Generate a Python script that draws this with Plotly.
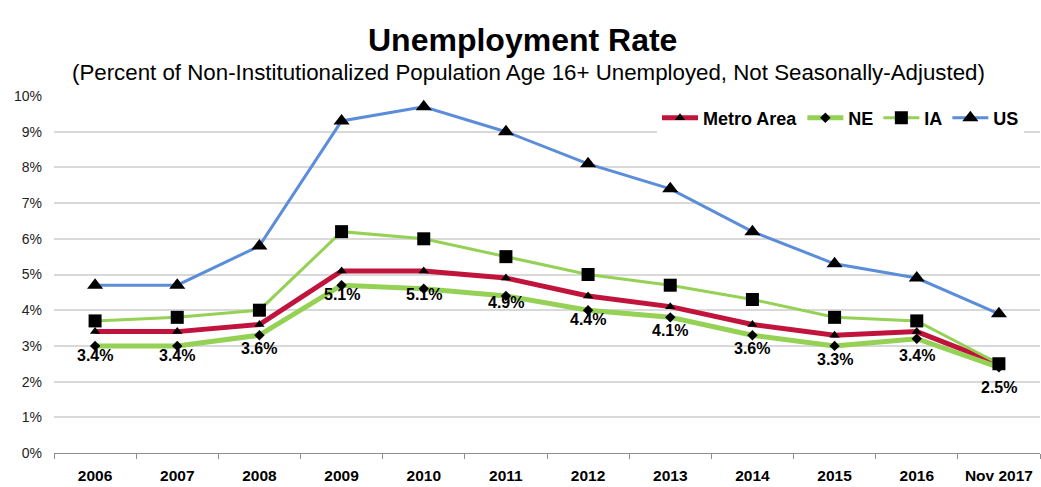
import plotly.graph_objects as go

categories = ["2006", "2007", "2008", "2009", "2010", "2011", "2012", "2013",
              "2014", "2015", "2016", "Nov 2017"]
metro = [3.4, 3.4, 3.6, 5.1, 5.1, 4.9, 4.4, 4.1, 3.6, 3.3, 3.4, 2.5]
ne = [3.0, 3.0, 3.3, 4.7, 4.6, 4.4, 4.0, 3.8, 3.3, 3.0, 3.2, 2.4]
ia = [3.7, 3.8, 4.0, 6.2, 6.0, 5.5, 5.0, 4.7, 4.3, 3.8, 3.7, 2.5]
us = [4.7, 4.7, 5.8, 9.3, 9.7, 9.0, 8.1, 7.4, 6.2, 5.3, 4.9, 3.9]
y_ticks = [0, 1, 2, 3, 4, 5, 6, 7, 8, 9, 10]
y_tick_labels = [f"{v}%" for v in y_ticks]

FONT = "Liberation Sans, Arial"

fig = go.Figure()
fig.add_trace(go.Scatter(x=categories, y=metro, name="<b>Metro Area</b>", mode="lines+markers",
                         line=dict(color="#C0143C", width=5),
                         marker=dict(symbol="triangle-up", size=9, color="black"),
                         cliponaxis=False))
fig.add_trace(go.Scatter(x=categories, y=ne, name="<b>NE</b>", mode="lines+markers",
                         line=dict(color="#95D155", width=5),
                         marker=dict(symbol="diamond", size=8, color="black"),
                         cliponaxis=False))
fig.add_trace(go.Scatter(x=categories, y=ia, name="<b>IA</b>", mode="lines+markers",
                         line=dict(color="#95D155", width=3),
                         marker=dict(symbol="square", size=13, color="black"),
                         cliponaxis=False))
fig.add_trace(go.Scatter(x=categories, y=us, name="<b>US</b>", mode="lines+markers",
                         line=dict(color="#5B8DD9", width=3),
                         marker=dict(symbol="triangle-up", size=14, color="black"),
                         cliponaxis=False))

annotations = []
for i, v in enumerate(metro):
    annotations.append(dict(x=i, y=v, xref="x", yref="y", text=f"<b>{v:.1f}%</b>",
                            showarrow=False, yshift=-24,
                            font=dict(family=FONT, size=16, color="black")))

annotations.append(dict(x=(522 - 54) / 986, y=1 + 76 / 357, xref="paper", yref="paper",
                        text="<b>Unemployment Rate</b>", showarrow=False,
                        font=dict(family=FONT, size=32, color="black")))
annotations.append(dict(x=(528 - 54) / 986, y=1 + 38 / 357, xref="paper", yref="paper",
                        text="(Percent of Non-Institutionalized Population Age 16+ Unemployed, Not Seasonally-Adjusted)",
                        showarrow=False,
                        font=dict(family=FONT, size=22.3, color="black")))

fig.update_layout(
    width=1041, height=487,
    margin=dict(l=54, r=1, t=96, b=34, autoexpand=False),
    plot_bgcolor="white", paper_bgcolor="white",
    annotations=annotations,
    legend=dict(orientation="h", x=(1024 - 54) / 986, xanchor="right",
                y=(453 - 118) / 357, yanchor="middle",
                bgcolor="white", font=dict(family=FONT, size=18, color="black"),
                itemwidth=36, tracegroupgap=0, traceorder="normal"),
    xaxis=dict(type="category", range=[-0.5, 11.5], showgrid=False, automargin=False,
               showline=True, linecolor="#8C8C8C", linewidth=1,
               ticks="outside", tickson="boundaries", ticklen=5, tickcolor="#8C8C8C",
               ticklabelstandoff=8,
               tickfont=dict(family=FONT, size=15.5, color="black"),
               tickprefix="<b>", ticksuffix="</b>", fixedrange=True),
    yaxis=dict(range=[0, 10], tickvals=y_ticks, ticktext=y_tick_labels, automargin=False,
               showgrid=True, gridcolor="#D9D9D9", gridwidth=2,
               zeroline=False, showline=False, ticklabelstandoff=11,
               tickfont=dict(family=FONT, size=14, color="#222222"),
               ticks="", fixedrange=True),
)

fig.write_html("out.html", config={"displayModeBar": False},
               post_script="document.body.style.margin='0';document.body.style.overflow='hidden';")
